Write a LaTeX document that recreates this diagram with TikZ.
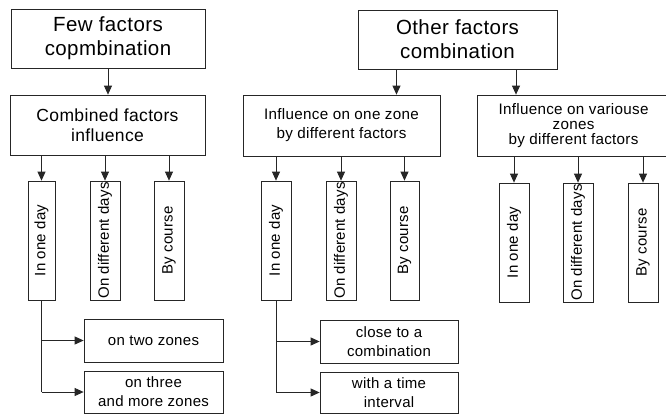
\documentclass[tikz,border=0pt]{standalone}
\usepackage{fontspec}
\setmainfont{Liberation Sans}
\usetikzlibrary{arrows.meta}
\begin{document}
\begin{tikzpicture}[x=1pt,y=-1pt,
  box/.style={draw=black!85, line width=0.75pt, inner sep=0pt, align=center, fill=white},
  topbox/.style={box, font=\fontsize{20.5}{24}\selectfont\addfontfeature{LetterSpace=2}},
  midbox/.style={box, font=\fontsize{17.5}{20}\selectfont\addfontfeature{LetterSpace=2}},
  infbox/.style={box, font=\fontsize{15.2}{19}\selectfont\addfontfeature{LetterSpace=2}},
  vbox/.style={box, minimum height=27pt, minimum width=119pt, rotate=90,
    font=\fontsize{15}{17}\selectfont\addfontfeature{LetterSpace=1}},
  lowbox/.style={box, font=\fontsize{15}{19}\selectfont\addfontfeature{LetterSpace=2}},
  arr/.style={draw=black!85, line width=0.75pt, -{Triangle[length=9pt,width=8pt]}},
  ln/.style={draw=black!85, line width=0.75pt}]
\useasboundingbox (0,0) rectangle (666,413);
\fill[white] (0,0) rectangle (666,413);

% top level
\node[topbox, minimum width=194pt, minimum height=59pt] (A) at (108,38.5) {Few factors\\copmbination};
\node[topbox, minimum width=199pt, minimum height=59pt] (C) at (457.5,39.5) {Other factors\\combination};

% second level
\node[midbox, minimum width=195pt, minimum height=60pt] (B) at (107.5,125) {Combined factors\\influence};
\node[infbox, minimum width=197pt, minimum height=61pt] (D) at (341.5,125.5) {Influence on one zone\\by different factors};
\node[infbox, minimum width=193pt, minimum height=61pt, font=\fontsize{15.2}{15}\selectfont\addfontfeature{LetterSpace=2}] (E) at (573.5,125.5) {Influence on variouse\\zones\\by different factors};

% vertical boxes
\node[vbox] (B1) at (41.5,240.5) {In one day};
\node[vbox, minimum height=30pt] (B2) at (105,240.5) {On different days};
\node[vbox, minimum height=30pt] (B3) at (169,240.5) {By course};
\node[vbox, minimum height=30pt] (D1) at (276,240.5) {In one day};
\node[vbox, minimum height=30pt] (D2) at (341,240.5) {On different days};
\node[vbox, minimum height=29pt] (D3) at (404.5,240.5) {By course};
\node[vbox, minimum height=30pt] (E1) at (514,242.5) {In one day};
\node[vbox, minimum height=30pt] (E2) at (578,242.5) {On different days};
\node[vbox, minimum height=30pt] (E3) at (643,242.5) {By course};

% bottom boxes
\node[lowbox, minimum width=139pt, minimum height=43pt] (L1) at (153.5,340.5) {on two zones};
\node[lowbox, minimum width=139pt, minimum height=42pt] (L2) at (153.5,392) {on three\\and more zones};
\node[lowbox, minimum width=138pt, minimum height=43pt] (M1) at (389,341.5) {close to a\\combination};
\node[lowbox, minimum width=138pt, minimum height=41pt] (M2) at (389,392.5) {with a time\\interval};

% connectors
\draw[arr] (A.south) -- (B.north -| A.south);
\draw[arr] (C.south -| D.north) ++(55,0) coordinate (cd) -- (cd |- D.north);
\draw[arr] (C.south -| E1) ++(2,0) coordinate (ce) -- (ce |- E.north);

\foreach \p/\c in {B/B1,B/B2,B/B3,D/D1,D/D2,D/D3,E/E1,E/E2,E/E3}{
  \draw[arr] (\p.south -| \c.center) -- (\c.east);
}

\draw[ln] (B1.west) -- (B1.west |- L2.west);
\draw[arr] (B1.west |- L1.west) -- (L1.west);
\draw[arr] (B1.west |- L2.west) -- (L2.west);
\draw[ln] (D1.west) -- (D1.west |- M2.west);
\draw[arr] (D1.west |- M1.west) -- (M1.west);
\draw[arr] (D1.west |- M2.west) -- (M2.west);
\end{tikzpicture}
\end{document}
